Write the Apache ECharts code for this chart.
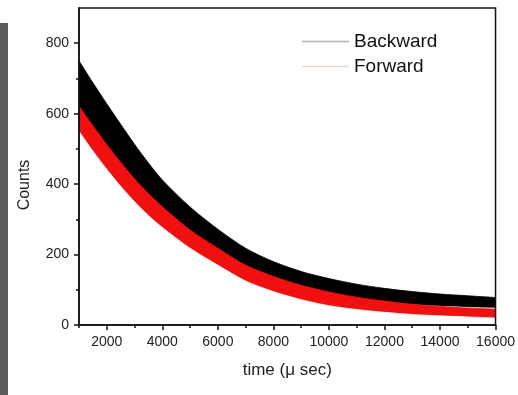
<!DOCTYPE html>
<html>
<head>
<meta charset="utf-8">
<script src="https://cdn.jsdelivr.net/npm/echarts@6/dist/echarts.min.js"></script>
<style>html,body{margin:0;padding:0;background:#fff}#c{width:518px;height:395px}</style>
</head>
<body>
<div id="c"></div>
<script>
// time (µs) sample positions where the noisy bands were read
const timeUs = [1000, 1500, 2000, 2500, 3000, 3500, 4000, 5000, 6000, 7000, 8000, 9000, 10000, 11000, 12000, 13000, 14000, 15000, 16000];
// Backward counts: upper and lower envelope of the noisy trace
const backwardUpper = [750, 688, 628, 570, 513, 460, 412, 335, 272, 218, 180, 152, 132, 116, 104, 95, 88, 83, 78];
const backwardLower = [605, 550, 497, 448, 402, 360, 324, 260, 210, 162, 130, 106, 88, 74, 64, 57, 53, 50, 48];
// Forward counts: upper and lower envelope of the noisy trace
const forwardUpper = [622, 566, 512, 462, 415, 373, 336, 270, 218, 170, 138, 113, 94, 79, 68, 59, 53, 48, 45];
const forwardLower = [550, 494, 442, 394, 350, 311, 277, 218, 170, 125, 95, 72, 55, 44, 36, 30, 26, 23, 20];
// axis ticks
const xMajor = [2000, 4000, 6000, 8000, 10000, 12000, 14000, 16000];
const xMinor = [1000, 3000, 5000, 7000, 9000, 11000, 13000, 15000];
const yMajor = [0, 200, 400, 600, 800];
const yMinor = [100, 300, 500, 700];
const seriesNames = ['Backward', 'Forward'];

const pts = (arr) => timeUs.map((t, i) => [t, arr[i]]);
const font = 'Liberation Sans, Arial, sans-serif';

function area(name, arr, color, z) {
  return {name: name, type: 'line', data: pts(arr), symbol: 'none', smooth: 0.3,
    lineStyle: {width: 0.8, color: color}, itemStyle: {color: color},
    areaStyle: {color: color, opacity: 1}, silent: true, z: z};
}

const chart = echarts.init(document.getElementById('c'));
chart.setOption({
  animation: false,
  backgroundColor: '#fff',
  grid: {left: 79, right: 15, top: 8, bottom: 70, show: true, borderColor: '#111', borderWidth: 1.5, backgroundColor: 'transparent', z: 20},
  legend: {
    z: 30, orient: 'vertical', left: 297, top: 27, itemWidth: 47, itemHeight: 1.5, itemGap: 6,
    textStyle: {fontFamily: font, fontSize: 19, color: '#111'},
    data: [
      {name: seriesNames[0], icon: 'rect', itemStyle: {color: '#b0b0b0'}},
      {name: seriesNames[1], icon: 'rect', itemStyle: {color: '#e6d6cf'}}
    ]
  },
  xAxis: [
    {type: 'value', min: 1000, max: 16000, interval: 1000, z: 20,
     axisLine: {show: true, lineStyle: {color: '#111', width: 1.5}},
     axisTick: {show: true, length: 5, customValues: xMajor, lineStyle: {color: '#111', width: 1.5}},
     axisLabel: {customValues: xMajor, formatter: (v) => String(v), color: '#222', fontFamily: font, fontSize: 14, margin: 10},
     splitLine: {show: false},
     name: 'time (\u03bc sec)', nameLocation: 'middle', nameGap: 37,
     nameTextStyle: {fontFamily: font, fontSize: 17, color: '#222'}},
    {type: 'value', min: 1000, max: 16000, interval: 1000, position: 'bottom', z: 20,
     axisLine: {show: false},
     axisTick: {show: true, length: 3, customValues: xMinor, lineStyle: {color: '#111', width: 1.5}},
     axisLabel: {show: false}, splitLine: {show: false}}
  ],
  yAxis: [
    {type: 'value', min: 0, max: 900, interval: 100, z: 20,
     axisLine: {show: true, lineStyle: {color: '#111', width: 1.5}},
     axisTick: {show: true, length: 5, customValues: yMajor, lineStyle: {color: '#111', width: 1.5}},
     axisLabel: {customValues: yMajor, formatter: (v) => String(v), color: '#222', fontFamily: font, fontSize: 14, margin: 10},
     splitLine: {show: false}},
    {type: 'value', min: 0, max: 900, interval: 100, position: 'left', z: 20,
     axisLine: {show: false},
     axisTick: {show: true, length: 3, customValues: yMinor, lineStyle: {color: '#111', width: 1.5}},
     axisLabel: {show: false}, splitLine: {show: false}}
  ],
  graphic: [
    {type: 'rect', left: 0, top: 23, shape: {width: 8, height: 372}, style: {fill: '#5c5c5c'}, silent: true},
    {type: 'text', x: 25, y: 185, rotation: Math.PI / 2,
     style: {text: 'Counts', fill: '#222', font: '16px Liberation Sans, Arial, sans-serif', textAlign: 'center', textVerticalAlign: 'middle'}}
  ],
  series: [
    area(seriesNames[0], backwardUpper, '#000000', 2),
    area('Backward lower edge', backwardLower, '#ffffff', 3),
    area(seriesNames[1], forwardUpper, '#f01010', 4),
    area('Forward lower edge', forwardLower, '#ffffff', 5)
  ]
});
</script>
</body>
</html>
